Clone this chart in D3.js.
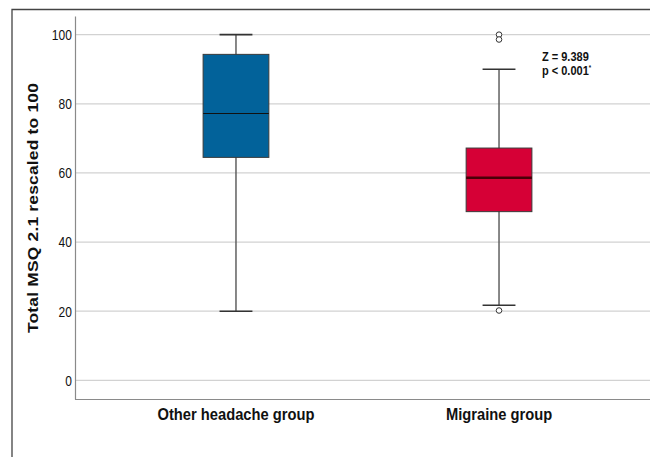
<!DOCTYPE html>
<html>
<head>
<meta charset="utf-8">
<script src="https://cdn.jsdelivr.net/npm/d3@7"></script>
<style>
  body { margin: 0; background: #fff; }
  svg { display: block; }
</style>
</head>
<body>
<div class="vis-boxplot"></div>
<script>
// box plot data
const groups = ['Other headache group', 'Migraine group'];
const whiskerLow = [20, 21.7];
const q1 = [64.5, 48.8];
const median = [77.2, 58.6];
const q3 = [94.3, 67.2];
const whiskerHigh = [100, 90];
const outliers = [[], [100, 98.6, 20.2]];
const yTicks = [0, 20, 40, 60, 80, 100];
const boxColors = ['#02629a', '#d60036'];
const medianColors = ['#111', '#4a0008'];
const medianWidths = [1.2, 2.6];

const sans = "'Liberation Sans', Arial, sans-serif";

const width = 650, height = 457;
const margin = { top: 16, right: -10, bottom: 58, left: 75 };

const svg = d3.select('.vis-boxplot')
    .append('svg')
    .attr('width', width)
    .attr('height', height);

// outer frame (top + left only, the rest is cut off)
svg.append('path')
    .attr('d', 'M12,' + height + 'V9.5H' + width)
    .attr('fill', 'none')
    .attr('stroke', '#444')
    .attr('stroke-width', 1.3);

const x = d3.scaleBand()
    .domain(groups)
    .range([margin.left, width - margin.right])
    .paddingInner(0)
    .paddingOuter(0.112);

const y = d3.scaleLinear()
    .domain([-5.4, 105.4])
    .range([height - margin.bottom, margin.top]);

// gridlines
svg.append('g')
    .selectAll('line')
    .data(yTicks)
    .enter().append('line')
    .attr('x1', margin.left)
    .attr('x2', width)
    .attr('y1', d => y(d))
    .attr('y2', d => y(d))
    .attr('stroke', '#d2d2d2')
    .attr('stroke-width', 1.2);

// axes
let yAxis = svg.append('g')
    .attr('transform', 'translate(' + margin.left + ',0)')
    .call(d3.axisLeft(y).tickValues(yTicks).tickSize(0).tickPadding(4));
yAxis.select('.domain').attr('stroke', '#8a8a8a').attr('stroke-width', 1.2);
yAxis.selectAll('text')
    .style('font-family', sans)
    .style('font-size', '15px')
    .attr('fill', '#111')
    .attr('transform', 'scale(0.8,1)');

let xAxis = svg.append('g')
    .attr('transform', 'translate(0,' + (height - margin.bottom) + ')')
    .call(d3.axisBottom(x).tickSize(0).tickPadding(10));
xAxis.select('.domain')
    .attr('d', 'M' + margin.left + ',0.5H' + width)
    .attr('stroke', '#8a8a8a').attr('stroke-width', 1.2);
xAxis.selectAll('text')
    .style('font-family', sans)
    .style('font-size', '16px')
    .style('font-weight', 'bold')
    .attr('fill', '#111')
    .attr('transform', 'scale(0.92,1)');

// y axis title
svg.append('text')
    .attr('transform', 'translate(37.5,208) rotate(-90) scale(1.12,1)')
    .attr('text-anchor', 'middle')
    .style('font-family', sans)
    .style('font-size', '15.5px')
    .style('font-weight', 'bold')
    .style('letter-spacing', '0.2px')
    .attr('fill', '#111')
    .text('Total MSQ 2.1 rescaled to 100');

const boxW = x.bandwidth() * 0.25;
const capW = boxW / 2;

const stats = groups.map((g, i) => ({
    g: g, lo: whiskerLow[i], q1: q1[i], med: median[i], q3: q3[i], hi: whiskerHigh[i], out: outliers[i], i: i
}));

let boxG = svg.selectAll('.box')
    .data(stats)
    .enter().append('g')
    .attr('class', 'box')
    .attr('transform', d => 'translate(' + (x(d.g) + x.bandwidth() / 2) + ',0)');

// whisker line
boxG.append('line')
    .attr('x1', 0).attr('x2', 0)
    .attr('y1', d => y(d.lo))
    .attr('y2', d => y(d.hi))
    .attr('stroke', '#555')
    .attr('stroke-width', 1.4);

// caps
boxG.selectAll('.cap')
    .data(d => [d.lo, d.hi])
    .enter().append('line')
    .attr('x1', -capW / 2).attr('x2', capW / 2)
    .attr('y1', d => y(d)).attr('y2', d => y(d))
    .attr('stroke', '#333')
    .attr('stroke-width', 1.6);

boxG.append('rect')
    .attr('x', -boxW / 2)
    .attr('width', boxW)
    .attr('y', d => y(d.q3))
    .attr('height', d => y(d.q1) - y(d.q3))
    .attr('fill', d => boxColors[d.i])
    .attr('stroke', '#3a3a3a')
    .attr('stroke-width', 1);

boxG.append('line')
    .attr('x1', -boxW / 2).attr('x2', boxW / 2)
    .attr('y1', d => y(d.med)).attr('y2', d => y(d.med))
    .attr('stroke', d => medianColors[d.i])
    .attr('stroke-width', d => medianWidths[d.i]);

boxG.selectAll('.out')
    .data(d => d.out)
    .enter().append('circle')
    .attr('cx', 0)
    .attr('cy', d => y(d))
    .attr('r', 2.8)
    .attr('fill', '#fff')
    .attr('stroke', '#333')
    .attr('stroke-width', 1);

// test annotation
const note = svg.append('text')
    .attr('transform', 'translate(542,0) scale(0.88,1)')
    .style('font-family', sans)
    .style('font-size', '12.5px')
    .style('font-weight', 'bold')
    .attr('fill', '#111');
note.append('tspan').attr('x', 0).attr('y', 61).text('Z = 9.389');
note.append('tspan').attr('x', 0).attr('y', 75.5).text('p < 0.001');
note.append('tspan').attr('dy', -5).style('font-size', '7px').text('*');
</script>
</body>
</html>
